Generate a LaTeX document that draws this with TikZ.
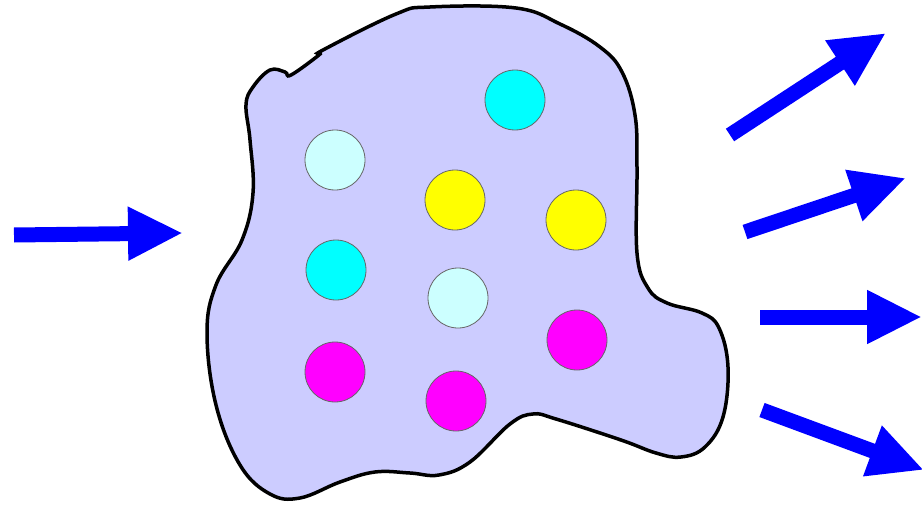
\documentclass[tikz,border=0pt]{standalone}
\usetikzlibrary{arrows.meta}
\definecolor{blobfill}{HTML}{CCCCFF}
\definecolor{ccyan}{HTML}{00FFFF}
\definecolor{clcyan}{HTML}{CCFFFF}
\definecolor{cyellow}{HTML}{FFFF00}
\definecolor{cmagenta}{HTML}{FF00FF}
\definecolor{cblue}{HTML}{0000FF}
\tikzset{
  ball/.style={circle, draw=gray!80!black, line width=0.8pt, minimum size=60pt, inner sep=0pt},
  flow/.style={cblue, line width=15pt, -{Triangle[length=55pt,width=50pt]}},
}
\begin{document}
\begin{tikzpicture}[x=1pt,y=-1pt]
\useasboundingbox (0,0) rectangle (922,506);
\draw[line width=3.5pt, fill=blobfill] plot[smooth cycle, tension=0.65] coordinates {
(253,87) (270,70) (285,72) (291,75) (319,55) (323,50) (396,14) (430,7) (516,8) (560,24) (600,47) (622,72) (635,115) (637,167) (637,253) (648,288) (667,303) (702,313) (719,328) (728,367) (723,417) (705,447) (681,457) (656,453) (621,440) (556,419) (533,414) (510,424) (470,462) (439,475) (410,473) (375,472) (340,482) (300,498) (270,494) (240,465) (216,405) (207,333) (216,285) (242,240) (253,193) (250,140) (246,105)};
\node[ball, fill=ccyan] (c1) at (515,100) {};
\node[ball, fill=clcyan] (c2) at (335,160) {};
\node[ball, fill=cyellow] (c3) at (455,200) {};
\node[ball, fill=cyellow] (c4) at (576,220) {};
\node[ball, fill=ccyan] (c5) at (336,270) {};
\node[ball, fill=clcyan] (c6) at (458,298) {};
\node[ball, fill=cmagenta] (c7) at (577,340) {};
\node[ball, fill=cmagenta] (c8) at (335,372) {};
\node[ball, fill=cmagenta] (c9) at (456,401) {};
\coordinate (in0) at (14,235);
\coordinate (in1) at (183,233);
\coordinate (a1s) at (730,135);
\coordinate (a1e) at (886,33);
\coordinate (a2s) at (745,232);
\coordinate (a2e) at (906,178);
\coordinate (a3s) at (760,317);
\coordinate (a3e) at (922,317);
\coordinate (a4s) at (762,410);
\coordinate (a4e) at (924,470);
\draw[flow] (in0) -- (in1);
\draw[flow] (a1s) -- (a1e);
\draw[flow] (a2s) -- (a2e);
\draw[flow] (a3s) -- (a3e);
\draw[flow] (a4s) -- (a4e);
\end{tikzpicture}
\end{document}
